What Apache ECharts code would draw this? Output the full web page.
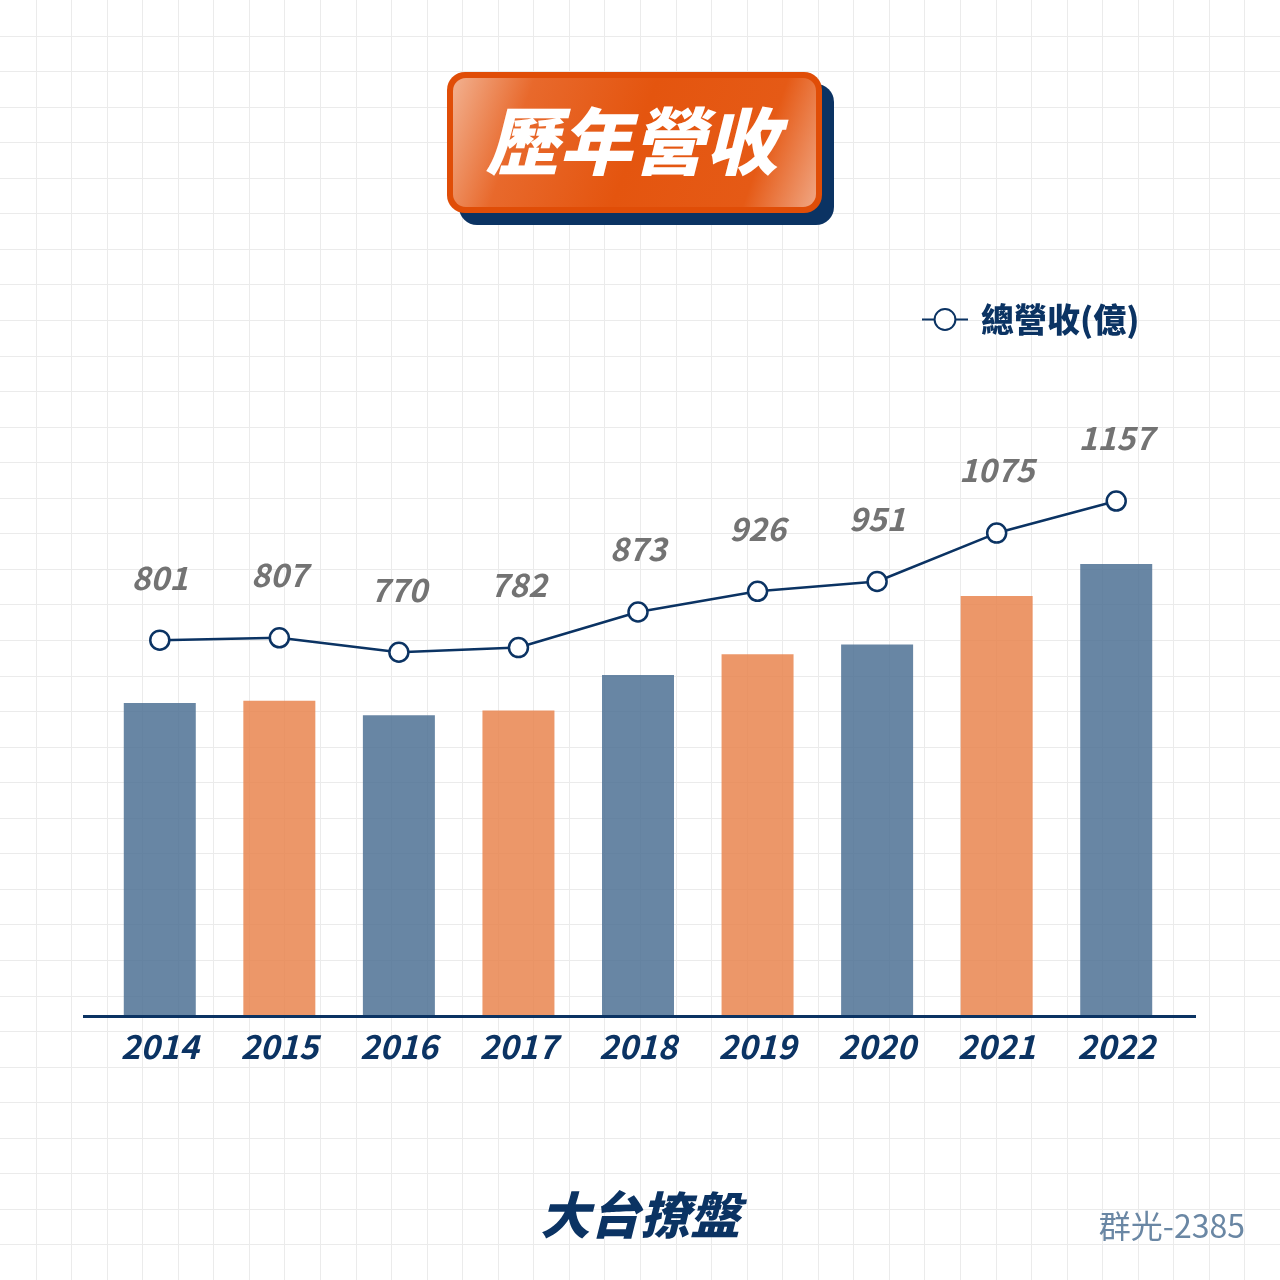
<!DOCTYPE html>
<html>
<head>
<meta charset="utf-8">
<script src="https://cdn.jsdelivr.net/npm/echarts@6/dist/echarts.min.js"></script>
<style>
html,body{margin:0;padding:0;background:#fff;}
#main{width:1280px;height:1280px;}
</style>
</head>
<body>
<div id="main"></div>
<script>
var years = ['2014','2015','2016','2017','2018','2019','2020','2021','2022'];
var revenue = [801, 807, 770, 782, 873, 926, 951, 1075, 1157];
var seriesName = '總營收(億)';
var titleText = '歷年營收';
var logoText = '大台撩盤';
var stockText = '群光-2385';

var NAVY = '#0b3363';
var FONT = '"Noto Sans CJK TC","Noto Sans",sans-serif';

var chart = echarts.init(document.getElementById('main'), null, {renderer: 'canvas'});

// background grid paper
var bg = [];
var step = 1280 / 36;
for (var k = 1; k < 36; k++) {
  var p = Math.round(k * step);
  bg.push({type: 'rect', z: -10, silent: true, shape: {x: p, y: 0, width: 1, height: 1280}, style: {fill: '#ebebeb'}});
  bg.push({type: 'rect', z: -10, silent: true, shape: {x: 0, y: p, width: 1280, height: 1}, style: {fill: '#ebebeb'}});
}

var deco = [
  // title shadow
  {type: 'rect', z: 10, shape: {x: 459, y: 84, width: 375, height: 141, r: 18}, style: {fill: NAVY}},
  // title outer
  {type: 'rect', z: 11, shape: {x: 447, y: 72, width: 375, height: 141, r: 18}, style: {fill: '#e04d07'}},
  // title inner gradient
  {type: 'rect', z: 12, shape: {x: 453, y: 78, width: 363, height: 129, r: 13},
    style: {fill: new echarts.graphic.LinearGradient(0, 0, 1, 1, [
      {offset: 0, color: '#f2b190'},
      {offset: 0.2, color: '#e8692c'},
      {offset: 0.5, color: '#e4550f'},
      {offset: 0.82, color: '#e55a16'},
      {offset: 1, color: '#f0a683'}
    ])}},
  {type: 'text', z: 13, left: 486, top: 105,
    style: {text: titleText, font: 'italic 900 73px ' + FONT, fill: '#ffffff',
      textShadowColor: '#d5301a', textShadowOffsetX: 4, textShadowOffsetY: 4, textShadowBlur: 0}},
  // axis line
  {type: 'rect', z: 20, shape: {x: 83, y: 1015, width: 1113, height: 3}, style: {fill: NAVY}},
  // logo
  {type: 'text', z: 20, left: 'center', top: 1190,
    style: {text: logoText, font: 'italic 900 50px ' + FONT, fill: NAVY}},
  // stock id
  {type: 'text', z: 20, right: 35, top: 1210,
    style: {text: stockText, font: '400 32px ' + FONT, fill: '#6a87a4'}}
];

var option = {
  animation: false,
  backgroundColor: '#ffffff',
  graphic: bg.concat(deco),
  legend: {
    data: [seriesName],
    left: 916, top: 298,
    itemWidth: 46, itemHeight: 26, itemGap: 10,
    textStyle: {fontFamily: FONT, fontSize: 33, fontWeight: 900, color: NAVY, padding: [0, 0, 0, 8]}
  },
  grid: {left: 100, right: 104, top: 312.7, bottom: 264, containLabel: false},
  xAxis: {
    type: 'category', data: years,
    axisLine: {show: false}, axisTick: {show: false}, splitLine: {show: false},
    axisLabel: {margin: 14, fontFamily: FONT, fontSize: 33, fontWeight: 'bold', fontStyle: 'italic', color: NAVY}
  },
  yAxis: [
    {type: 'value', min: 0, max: 1800, show: false, splitLine: {show: false}},
    {type: 'value', min: -161, max: 1639, show: false, splitLine: {show: false}}
  ],
  series: [
    {
      type: 'bar', name: 'bars', yAxisIndex: 0, data: revenue, barWidth: 72,
      itemStyle: {color: function (p) { return p.dataIndex % 2 === 0 ? 'rgba(75,111,146,0.84)' : 'rgba(232,128,72,0.82)'; }},
      z: 2
    },
    {
      type: 'line', name: seriesName, yAxisIndex: 1, data: revenue,
      symbol: 'circle', symbolSize: 19,
      lineStyle: {color: NAVY, width: 2.5},
      itemStyle: {color: '#ffffff', borderColor: NAVY, borderWidth: 2.5},
      label: {show: true, position: 'top', distance: 36, fontFamily: FONT, fontSize: 32, fontWeight: 'bold', fontStyle: 'italic', color: '#737373'},
      z: 5
    }
  ]
};
chart.setOption(option);
</script>
</body>
</html>
